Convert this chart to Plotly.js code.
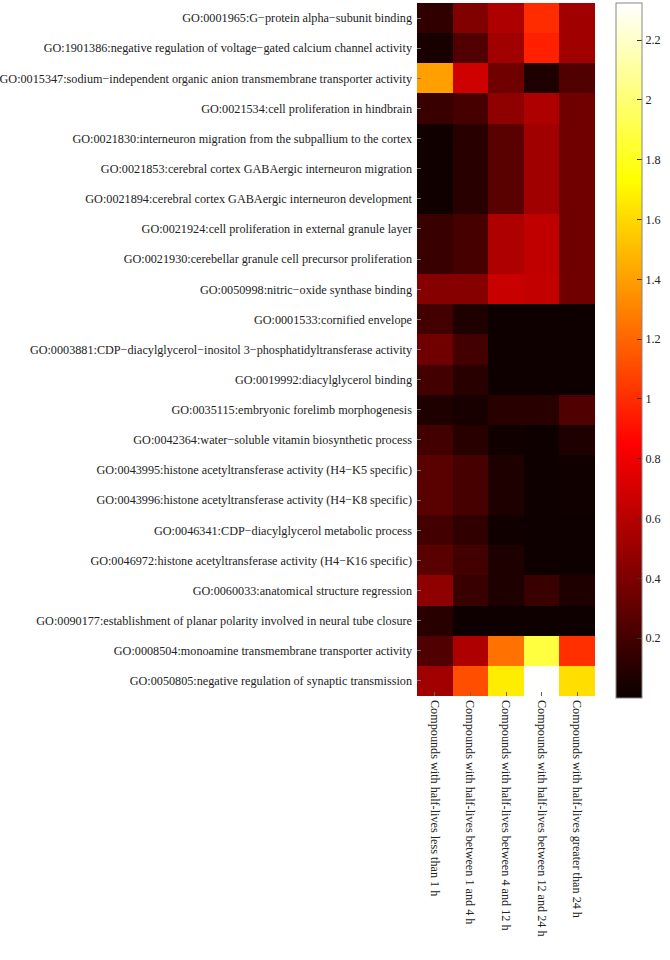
<!DOCTYPE html>
<html>
<head>
<meta charset="utf-8">
<script src="https://cdn.plot.ly/plotly-3.0.1.min.js"></script>
<style>html,body{margin:0;padding:0;background:#fff;}#chart{width:670px;height:960px;}</style>
</head>
<body>
<div id="chart"></div>
<script>
const goTerms = [
  "GO:0001965:G\u2212protein alpha\u2212subunit binding",
  "GO:1901386:negative regulation of voltage\u2212gated calcium channel activity",
  "GO:0015347:sodium\u2212independent organic anion transmembrane transporter activity",
  "GO:0021534:cell proliferation in hindbrain",
  "GO:0021830:interneuron migration from the subpallium to the cortex",
  "GO:0021853:cerebral cortex GABAergic interneuron migration",
  "GO:0021894:cerebral cortex GABAergic interneuron development",
  "GO:0021924:cell proliferation in external granule layer",
  "GO:0021930:cerebellar granule cell precursor proliferation",
  "GO:0050998:nitric\u2212oxide synthase binding",
  "GO:0001533:cornified envelope",
  "GO:0003881:CDP\u2212diacylglycerol\u2212inositol 3\u2212phosphatidyltransferase activity",
  "GO:0019992:diacylglycerol binding",
  "GO:0035115:embryonic forelimb morphogenesis",
  "GO:0042364:water\u2212soluble vitamin biosynthetic process",
  "GO:0043995:histone acetyltransferase activity (H4\u2212K5 specific)",
  "GO:0043996:histone acetyltransferase activity (H4\u2212K8 specific)",
  "GO:0046341:CDP\u2212diacylglycerol metabolic process",
  "GO:0046972:histone acetyltransferase activity (H4\u2212K16 specific)",
  "GO:0060033:anatomical structure regression",
  "GO:0090177:establishment of planar polarity involved in neural tube closure",
  "GO:0008504:monoamine transmembrane transporter activity",
  "GO:0050805:negative regulation of synaptic transmission"
];

const groups = [
  "Compounds with half-lives less than 1 h",
  "Compounds with half-lives between 1 and 4 h",
  "Compounds with half-lives between 4 and 12 h",
  "Compounds with half-lives between 12 and 24 h",
  "Compounds with half-lives greater than 24 h"
];

// one array per column (group), values per GO term, top to bottom
const lessThan1h = [0.13,0.05,1.40,0.16,0.02,0.02,0.02,0.16,0.16,0.43,0.19,0.35,0.19,0.07,0.19,0.27,0.27,0.19,0.27,0.46,0.10,0.24,0.52];
const between1and4h = [0.41,0.24,0.68,0.21,0.10,0.10,0.10,0.21,0.21,0.43,0.07,0.19,0.10,0.05,0.10,0.21,0.21,0.13,0.19,0.16,0.01,0.57,1.12];
const between4and12h = [0.57,0.52,0.35,0.46,0.27,0.27,0.27,0.57,0.57,0.66,0.01,0.01,0.01,0.10,0.02,0.07,0.07,0.02,0.07,0.07,0.01,1.24,1.67];
const between12and24h = [1.00,0.96,0.07,0.57,0.52,0.52,0.52,0.63,0.63,0.64,0.01,0.01,0.01,0.10,0.01,0.01,0.01,0.01,0.01,0.16,0.01,1.88,2.32];
const greaterThan24h = [0.52,0.52,0.24,0.35,0.35,0.35,0.35,0.35,0.35,0.35,0.01,0.01,0.01,0.24,0.07,0.02,0.02,0.01,0.01,0.07,0.01,1.01,1.62];

const colorTicks = [0.2,0.4,0.6,0.8,1,1.2,1.4,1.6,1.8,2,2.2];

const columns = [lessThan1h, between1and4h, between4and12h, between12and24h, greaterThan24h];
const z = goTerms.map((_, i) => columns.map(col => col[i]));

// MATLAB "hot" colormap
const hot = [
  [0, 'rgb(11,0,0)'],
  [23/63, 'rgb(255,0,0)'],
  [24/63, 'rgb(255,11,0)'],
  [47/63, 'rgb(255,255,0)'],
  [48/63, 'rgb(255,255,16)'],
  [1, 'rgb(255,255,255)']
];

const serif = "'Liberation Serif', 'Times New Roman', serif";

const trace = {
  type: 'heatmap',
  x: groups,
  y: goTerms,
  z: z,
  zmin: 0,
  zmax: 2.324,
  colorscale: hot,
  xgap: 0, ygap: 0,
  colorbar: {
    x: 1.118, xanchor: 'left', xref: 'paper',
    y: 1, yanchor: 'top',
    len: 1.003, lenmode: 'fraction',
    thickness: 26, thicknessmode: 'pixels',
    xpad: 0, ypad: 0,
    outlinewidth: 1, outlinecolor: '#888',
    tickmode: 'array', tickvals: colorTicks,
    ticktext: colorTicks.map(v => String(v)),
    ticks: 'inside', ticklen: 5, tickcolor: '#333',
    tickfont: {family: serif, size: 12.2, color: '#222'}
  }
};

const layout = {
  width: 670, height: 960,
  margin: {l: 417, r: 67, t: 3, b: 264},
  paper_bgcolor: '#fff', plot_bgcolor: '#fff',
  font: {family: serif, size: 12, color: '#222'},
  xaxis: {
    type: 'category',
    tickangle: 90,
    ticks: 'inside', ticklen: 4, tickcolor: '#666',
    ticklabelstandoff: 3,
    showgrid: false, zeroline: false, showline: false,
    tickfont: {family: serif, size: 12.2, color: '#222'}
  },
  yaxis: {
    type: 'category',
    autorange: 'reversed',
    ticks: 'inside', ticklen: 4, tickcolor: '#777',
    ticklabelstandoff: 4,
    showgrid: false, zeroline: false, showline: false,
    tickfont: {family: serif, size: 12.2, color: '#222'}
  }
};

Plotly.newPlot('chart', [trace], layout, {displayModeBar: false, staticPlot: true});
</script>
</body>
</html>
